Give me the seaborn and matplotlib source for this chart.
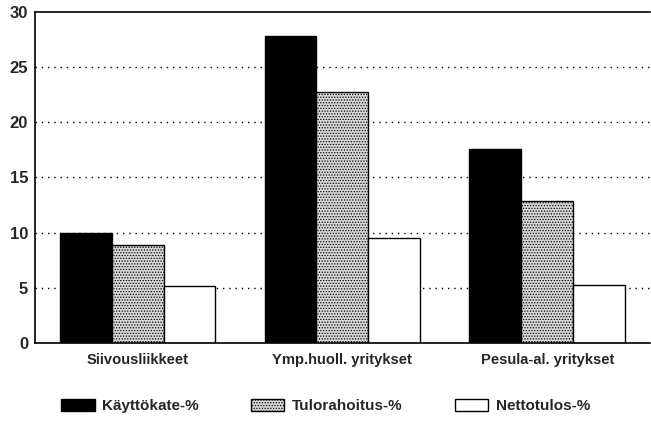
import pandas as pd
import matplotlib
matplotlib.use("Agg")
import matplotlib.pyplot as plt
import matplotlib.patches as mpatches
import seaborn as sns

# ----------------------------------------------------------------------------------
# Data
# ----------------------------------------------------------------------------------
categories = ["Siivousliikkeet", "Ymp.huoll. yritykset", "Pesula-al. yritykset"]
series = ["Käyttökate-%", "Tulorahoitus-%", "Nettotulos-%"]
kayttokate = [10.0, 27.8, 17.6]
tulorahoitus = [8.9, 22.7, 12.9]
nettotulos = [5.2, 9.5, 5.3]
yticks = [0, 5, 10, 15, 20, 25, 30]

df = pd.DataFrame({
    "ryhma": categories * 3,
    "sarja": [series[0]] * 3 + [series[1]] * 3 + [series[2]] * 3,
    "arvo": kayttokate + tulorahoitus + nettotulos,
})

# ----------------------------------------------------------------------------------
# Plot
# ----------------------------------------------------------------------------------
sns.set_style("white")
plt.rcParams["font.family"] = ["Liberation Sans", "DejaVu Sans"]
plt.rcParams["hatch.linewidth"] = 0.6

fig = plt.figure(figsize=(6.51, 4.22), dpi=100)
ax = fig.add_axes([0.054, 0.187, 0.944, 0.785])

styles = [("black", None), ("#d8d8d8", "......"), ("white", None)]

sns.barplot(data=df, x="ryhma", y="arvo", hue="sarja", order=categories,
            hue_order=series, width=0.76, ax=ax, legend=False,
            palette=["black", "#d8d8d8", "white"], edgecolor="black",
            linewidth=1.0, saturation=1)

# fill styles: solid black, stippled grey, white
for cont, (fc, hatch) in zip(ax.containers, styles):
    for bar in cont:
        bar.set_facecolor(fc)
        bar.set_edgecolor("black")
        if hatch:
            bar.set_hatch(hatch)

ax.set_ylim(0, 30)
ax.set_xlim(-0.5, 2.5)
ax.set_yticks(yticks)
ax.set_yticklabels([str(t) for t in yticks], fontsize=12, fontweight="bold")
ax.set_xticklabels(categories, fontsize=10.6, fontweight="bold")
ax.set_xlabel("")
ax.set_ylabel("")
ax.tick_params(axis="y", length=0, pad=5)
ax.tick_params(axis="x", length=0, pad=7)

for y in yticks[1:-1]:
    ax.axhline(y, color="black", linestyle=(0, (1, 3.5)), linewidth=1.0, zorder=0)

for side in ["left", "bottom", "top", "right"]:
    ax.spines[side].set_color("black")
    ax.spines[side].set_linewidth(1.2)
ax.spines["right"].set_visible(False)
ax.set_axisbelow(True)

handles = [
    mpatches.Patch(facecolor="black", edgecolor="black"),
    mpatches.Patch(facecolor="#d8d8d8", edgecolor="black", hatch="......"),
    mpatches.Patch(facecolor="white", edgecolor="black"),
]
fig.legend(handles, series, loc="center", bbox_to_anchor=(0.5, 0.038), ncol=3,
           frameon=False, prop={"size": 11, "weight": "bold"},
           handlelength=2.2, handleheight=0.8, columnspacing=3.4,
           handletextpad=0.5, borderpad=0.2)

fig.savefig("out.png", dpi=100)
plt.close(fig)
